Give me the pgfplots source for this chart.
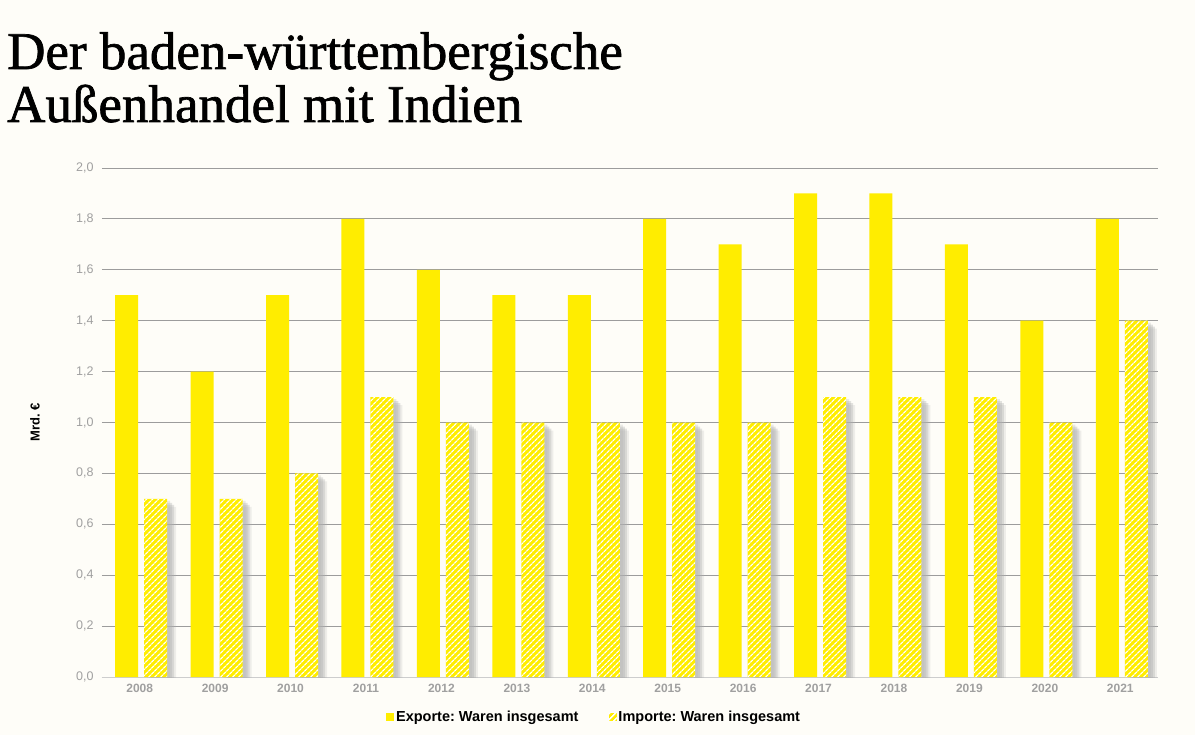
\documentclass[border=0pt]{standalone}
\usepackage{pgfplots}
\pgfplotsset{compat=1.18}
\usepackage{fontspec}
\newfontfamily\sans{Liberation Sans}
\newfontfamily\titlefont[FakeBold=1.3]{Liberation Serif}
\usetikzlibrary{patterns.meta}
\definecolor{yc}{HTML}{FFED00}
\definecolor{bg}{HTML}{FEFDF8}
\definecolor{gridc}{HTML}{9C9C9C}
\definecolor{tickc}{HTML}{A0A0A0}
\definecolor{shadowc}{HTML}{B0B0B0}
\frenchspacing
\begin{document}
\begin{tikzpicture}[x=1pt,y=1pt]
\fill[bg] (0,0) rectangle (1195,-735);
\useasboundingbox (0,0) rectangle (1195,-735);
\node[anchor=base west, font=\titlefont\fontsize{53}{57}\selectfont, inner sep=0] at (7,-69) {Der baden-württembergische};
\node[anchor=base west, font=\titlefont\fontsize{53}{57}\selectfont, inner sep=0] at (7,-122) {Außenhandel mit Indien};
\begin{axis}[
  at={(102pt,-677pt)}, anchor=south west,
  scale only axis, width=1056pt, height=509pt,
  ymin=0, ymax=2, xmin=-0.5, xmax=13.5,
  ytick={0,0.2,...,2.0},
  xtick={0,...,13},
  xticklabels={2008,2009,2010,2011,2012,2013,2014,2015,2016,2017,2018,2019,2020,2021},
  ymajorgrids, grid style={gridc, line width=0.8pt},
  axis x line*=bottom, axis y line*=left,
  x axis line style={draw=gridc!50, line width=0.8pt},
  y axis line style={draw=none},
  major tick length=0pt,
  /pgf/number format/use comma,
  /pgf/number format/fixed,
  /pgf/number format/fixed zerofill,
  /pgf/number format/precision=1,
  /pgf/number format/assume math mode=true,
  xticklabel style={yshift=-4pt, font=\sans\bfseries\fontsize{12}{14}\selectfont, text=tickc},
  yticklabel style={xshift=-5pt, font=\sans\fontsize{12.5}{14}\selectfont, text=tickc},
  ylabel={Mrd. €},
  every axis y label/.style={at={(axis description cs:0,0.5)}, xshift=-67pt, rotate=90, anchor=center, font=\sans\bfseries\fontsize{13}{15}\selectfont},
  clip=true,
  legend columns=2,
  legend style={at={(axis description cs:0.466,-0.0786)}, anchor=center, draw=none, fill=none,
    font=\sans\bfseries\fontsize{14.5}{16}\selectfont, /tikz/every even column/.append style={column sep=28pt}},
]
% shadows
\addplot[ybar, bar width=23pt, bar shift=19pt, fill=shadowc, fill opacity=0.25, draw=none, yshift=-2pt, forget plot]
  coordinates {(0,0.7)(1,0.7)(2,0.8)(3,1.1)(4,1.0)(5,1.0)(6,1.0)(7,1.0)(8,1.0)(9,1.1)(10,1.1)(11,1.1)(12,1.0)(13,1.4)};
\addplot[ybar, bar width=23pt, bar shift=21pt, fill=shadowc, fill opacity=0.35, draw=none, yshift=-4pt, forget plot]
  coordinates {(0,0.7)(1,0.7)(2,0.8)(3,1.1)(4,1.0)(5,1.0)(6,1.0)(7,1.0)(8,1.0)(9,1.1)(10,1.1)(11,1.1)(12,1.0)(13,1.4)};
\addplot[ybar, bar width=23pt, bar shift=23pt, fill=shadowc, fill opacity=0.35, draw=none, yshift=-6pt, forget plot]
  coordinates {(0,0.7)(1,0.7)(2,0.8)(3,1.1)(4,1.0)(5,1.0)(6,1.0)(7,1.0)(8,1.0)(9,1.1)(10,1.1)(11,1.1)(12,1.0)(13,1.4)};
\addplot[ybar, bar width=23pt, bar shift=25pt, fill=shadowc, fill opacity=0.2, draw=none, yshift=-8pt, forget plot]
  coordinates {(0,0.7)(1,0.7)(2,0.8)(3,1.1)(4,1.0)(5,1.0)(6,1.0)(7,1.0)(8,1.0)(9,1.1)(10,1.1)(11,1.1)(12,1.0)(13,1.4)};
\addplot[ybar, bar width=23pt, bar shift=-13pt, fill=yc, draw=none,
  legend image code/.code={\fill[yc] (0pt,-4pt) rectangle (8pt,4pt);}]
  coordinates {(0,1.5)(1,1.2)(2,1.5)(3,1.8)(4,1.6)(5,1.5)(6,1.5)(7,1.8)(8,1.7)(9,1.9)(10,1.9)(11,1.7)(12,1.4)(13,1.8)};
\addlegendentry{Exporte: Waren insgesamt}
\addplot[ybar, bar width=23pt, bar shift=16pt, fill=yc, draw=none,
  postaction={pattern={Lines[angle=45,distance=4pt,line width=1.3pt]}, pattern color=white},
  legend image code/.code={\fill[yc] (0pt,-4pt) rectangle (8pt,4pt);
    \fill[pattern={Lines[angle=45,distance=4pt,line width=1.3pt]}, pattern color=white] (0pt,-4pt) rectangle (8pt,4pt);}]
  coordinates {(0,0.7)(1,0.7)(2,0.8)(3,1.1)(4,1.0)(5,1.0)(6,1.0)(7,1.0)(8,1.0)(9,1.1)(10,1.1)(11,1.1)(12,1.0)(13,1.4)};
\addlegendentry{Importe: Waren insgesamt}
\end{axis}
\end{tikzpicture}
\end{document}
